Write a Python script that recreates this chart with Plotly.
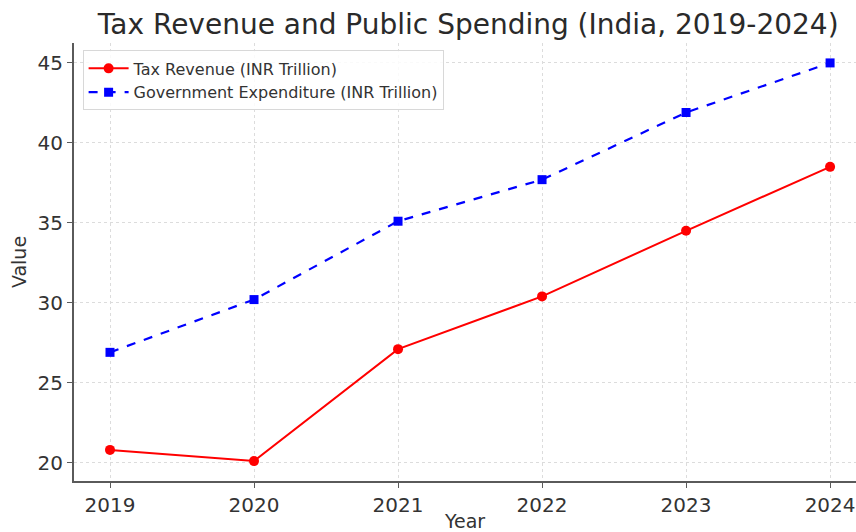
import plotly.graph_objects as go

years = [2019, 2020, 2021, 2022, 2023, 2024]
tax_revenue = [20.8, 20.1, 27.1, 30.4, 34.5, 38.5]
gov_expenditure = [26.9, 30.2, 35.1, 37.7, 41.9, 45.0]
y_ticks = [20, 25, 30, 35, 40, 45]

# 5% padding around the data, like a default matplotlib autoscale
lo = min(tax_revenue + gov_expenditure)
hi = max(tax_revenue + gov_expenditure)
pad = (hi - lo) * 0.05

font_family = "DejaVu Sans"
axis_color = "#5a5a5a"

fig = go.Figure()
fig.add_trace(go.Scatter(
    x=years, y=tax_revenue, mode="lines+markers",
    name="Tax Revenue (INR Trillion)",
    line=dict(color="#ff0000", width=2),
    marker=dict(symbol="circle", size=10, color="#ff0000"),
))
fig.add_trace(go.Scatter(
    x=years, y=gov_expenditure, mode="lines+markers",
    name="Government Expenditure (INR Trillion)",
    line=dict(color="#0000ff", width=2.2, dash="dash"),
    marker=dict(symbol="square", size=9, color="#0000ff"),
))

fig.update_layout(
    width=856, height=532,
    margin=dict(l=74, r=0, t=43, b=49),
    paper_bgcolor="white", plot_bgcolor="white",
    font=dict(family=font_family, color="#333333"),
    title=dict(
        text="Tax Revenue and Public Spending (India, 2019-2024)",
        x=0.547, xanchor="center", y=0.955, yanchor="middle",
        font=dict(size=28, color="#2a2a2a"),
    ),
    legend=dict(
        x=0.011, y=0.983, xanchor="left", yanchor="top",
        bgcolor="rgba(255,255,255,0.85)", bordercolor="#d8d8d8", borderwidth=1,
        font=dict(size=16, color="#333333"),
        tracegroupgap=0, itemwidth=40,
    ),
    showlegend=True,
)

fig.update_xaxes(
    range=[2018.75, 2024.18],
    tickmode="array", tickvals=years, ticktext=[str(y) for y in years],
    tickfont=dict(size=20),
    ticks="outside", ticklen=5, tickcolor=axis_color, tickwidth=1,
    showline=True, linecolor=axis_color, linewidth=2,
    showgrid=True, gridcolor="#dcdcdc", gridwidth=1, griddash="dot",
    zeroline=False,
    title=dict(text="Year", font=dict(size=19), standoff=2),
)
fig.update_yaxes(
    range=[lo - pad, hi + pad],
    tickmode="array", tickvals=y_ticks,
    tickfont=dict(size=20),
    ticks="outside", ticklen=5, tickcolor=axis_color, tickwidth=1,
    showline=True, linecolor=axis_color, linewidth=2,
    showgrid=True, gridcolor="#dcdcdc", gridwidth=1, griddash="dot",
    zeroline=False,
    title=dict(text="Value", font=dict(size=19), standoff=6),
)

fig.write_html("out.html")
